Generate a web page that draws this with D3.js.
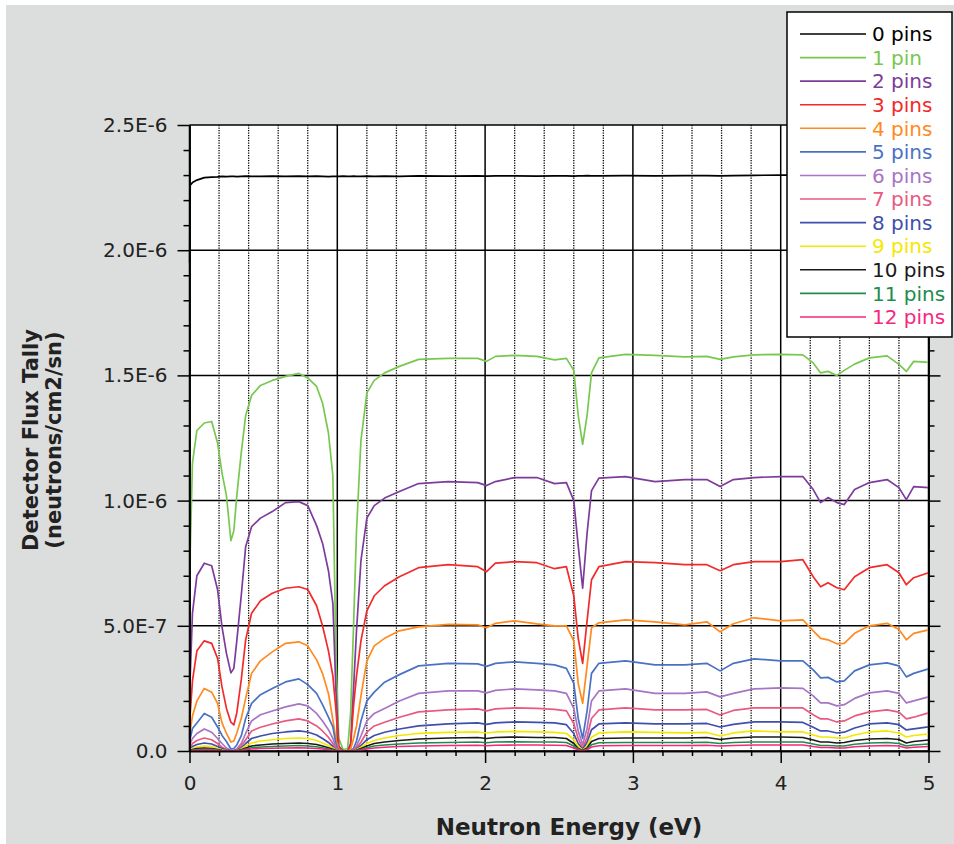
<!DOCTYPE html>
<html>
<head>
<meta charset="utf-8">
<script src="https://cdn.jsdelivr.net/npm/d3@7"></script>
<style>
  html, body { margin: 0; padding: 0; background: #ffffff; }
  svg { display: block; }
  text { font-family: "DejaVu Sans", Verdana, sans-serif; }
</style>
</head>
<body>
<svg id="chart" width="954" height="844"></svg>
<script>
// ---------------- DATA ----------------
const energy = [
  0, 0.005, 0.02, 0.05, 0.1, 0.15, 0.19, 0.22, 0.25, 0.28, 0.3, 0.32,
  0.35, 0.38, 0.42, 0.48, 0.56, 0.65, 0.74, 0.8, 0.86, 0.9, 0.94, 0.97,
  0.99, 1.01, 1.04, 1.07, 1.09, 1.11, 1.13, 1.16, 1.2, 1.25, 1.32, 1.42,
  1.55, 1.75, 1.95, 2.01, 2.07, 2.2, 2.35, 2.47, 2.55, 2.6, 2.63, 2.66,
  2.69, 2.72, 2.77, 2.95, 3.15, 3.35, 3.5, 3.59, 3.68, 3.82, 4.0, 4.15,
  4.22, 4.27, 4.32, 4.38, 4.43, 4.5, 4.6, 4.72, 4.8, 4.85, 4.9, 5.0
];

// flux values in units of 1E-7 neutrons/cm2/sn
const pins0 = [
  19.5, 22.6, 22.7, 22.8, 22.9, 22.92, 22.93, 22.95, 22.94, 22.95, 22.95, 22.94,
  22.95, 22.96, 22.95, 22.95, 22.96, 22.95, 22.96, 22.95, 22.96, 22.95, 22.94, 22.95,
  22.95, 22.95, 22.96, 22.95, 22.95, 22.96, 22.95, 22.95, 22.96, 22.95, 22.96, 22.95,
  22.97, 22.96, 22.97, 22.96, 22.97, 22.97, 22.96, 22.97, 22.97, 22.96, 22.97, 22.97,
  22.98, 22.97, 22.97, 22.98, 22.97, 22.98, 22.98, 22.97, 22.98, 22.99, 23.0, 23.0,
  23.0, 23.0, 23.0, 23.0, 23.0, 23.0, 23.0, 23.0, 23.0, 23.0, 23.0, 23.0
];
const pins1 = [
  1.0, 8.0, 11.5, 12.8, 13.1, 13.16, 12.3, 11.1, 10.2, 8.4, 8.8, 10.2,
  11.9, 13.4, 14.2, 14.6, 14.8, 14.96, 15.08, 14.9, 14.56, 13.9, 12.7, 11.0,
  4.0, 0.5, 0.05, 0.1, 1.5, 5.0, 8.8, 12.4, 14.3, 14.8, 15.1, 15.36,
  15.64, 15.68, 15.68, 15.56, 15.76, 15.8, 15.76, 15.62, 15.68, 15.2, 13.4, 12.25,
  13.4, 15.1, 15.7, 15.84, 15.8, 15.74, 15.76, 15.64, 15.74, 15.82, 15.84, 15.82,
  15.5, 15.1, 15.16, 15.0, 15.2, 15.45, 15.7, 15.78, 15.44, 15.16, 15.56, 15.52
];
const pins2 = [
  0.5, 3.0, 5.5, 7.0, 7.5, 7.4, 6.44, 4.96, 3.9, 3.12, 3.3, 4.4,
  6.2, 8.16, 8.96, 9.3, 9.56, 9.92, 9.96, 9.8, 9.0, 8.3, 7.2, 5.9,
  2.5, 0.2, 0.0, 0.0, 0.3, 2.5, 4.8, 7.6, 9.3, 9.8, 10.1, 10.36,
  10.68, 10.76, 10.72, 10.6, 10.76, 10.92, 10.92, 10.68, 10.72, 10.0, 8.2, 6.5,
  8.7, 10.4, 10.9, 10.96, 10.76, 10.84, 10.84, 10.56, 10.84, 10.92, 10.96, 10.96,
  10.44, 9.92, 10.12, 9.92, 9.84, 10.44, 10.72, 10.84, 10.52, 10.04, 10.56, 10.52
];
const pins3 = [
  0.3, 1.5, 2.8, 4.0, 4.4, 4.3, 3.7, 2.56, 1.7, 1.15, 1.04, 1.52,
  2.84, 4.44, 5.5, 6.0, 6.3, 6.5, 6.56, 6.45, 5.8, 5.0, 4.0, 3.0,
  1.7, 0.1, 0.0, 0.0, 0.2, 1.8, 3.0, 4.4, 5.6, 6.2, 6.6, 6.96,
  7.32, 7.44, 7.36, 7.16, 7.5, 7.56, 7.52, 7.28, 7.36, 6.2, 4.5, 3.5,
  5.2, 6.84, 7.36, 7.56, 7.52, 7.44, 7.44, 7.2, 7.44, 7.56, 7.56, 7.64,
  6.96, 6.56, 6.72, 6.52, 6.44, 6.96, 7.32, 7.44, 7.12, 6.64, 6.92, 7.12
];
const pins4 = [
  0.2, 0.8, 1.4, 2.0, 2.5, 2.35, 1.9, 1.12, 0.7, 0.36, 0.4, 0.72,
  1.3, 2.1, 3.1, 3.6, 3.96, 4.3, 4.36, 4.2, 3.64, 3.1, 2.3, 1.24,
  0.5, 0.05, 0.0, 0.0, 0.05, 0.5, 1.0, 2.2, 3.6, 4.2, 4.5, 4.8,
  4.96, 5.06, 5.04, 4.92, 5.1, 5.2, 5.08, 5.0, 5.0, 4.4, 2.7, 1.9,
  3.4, 4.92, 5.12, 5.24, 5.16, 5.04, 5.16, 4.76, 5.08, 5.32, 5.2, 5.24,
  4.8, 4.5, 4.44, 4.28, 4.3, 4.7, 5.0, 5.1, 4.85, 4.44, 4.7, 4.84
];
const pins5 = [
  0.1, 0.5, 0.9, 1.12, 1.5, 1.35, 0.96, 0.62, 0.38, 0.08, 0.1, 0.24,
  0.6, 1.3, 1.9, 2.25, 2.5, 2.76, 2.88, 2.65, 2.3, 1.85, 1.35, 0.96,
  0.3, 0.0, 0.0, 0.0, 0.0, 0.1, 0.4, 1.2, 2.0, 2.35, 2.75, 3.05,
  3.4, 3.5, 3.48, 3.38, 3.5, 3.56, 3.5, 3.44, 3.3, 2.7, 1.3, 0.5,
  1.6, 3.1, 3.5, 3.6, 3.44, 3.44, 3.5, 3.2, 3.5, 3.68, 3.6, 3.6,
  3.24, 2.92, 2.94, 2.76, 2.8, 3.2, 3.44, 3.52, 3.4, 2.96, 3.1, 3.28
];
const pins6 = [
  0.05, 0.3, 0.5, 0.7, 0.88, 0.75, 0.5, 0.3, 0.12, 0.03, 0.03, 0.08,
  0.3, 0.7, 1.2, 1.45, 1.6, 1.76, 1.88, 1.8, 1.5, 1.2, 0.85, 0.5,
  0.15, 0.0, 0.0, 0.0, 0.0, 0.05, 0.2, 0.6, 1.2, 1.5, 1.7, 2.0,
  2.3, 2.4, 2.4, 2.32, 2.42, 2.48, 2.44, 2.4, 2.3, 1.7, 0.8, 0.25,
  0.9, 2.0, 2.4, 2.48, 2.3, 2.3, 2.36, 2.16, 2.3, 2.48, 2.52, 2.5,
  2.2, 1.92, 1.92, 1.8, 1.85, 2.1, 2.32, 2.4, 2.3, 1.92, 2.0, 2.16
];
const pins7 = [
  0.03, 0.15, 0.3, 0.42, 0.52, 0.45, 0.3, 0.15, 0.06, 0.02, 0.02, 0.05,
  0.2, 0.45, 0.8, 0.95, 1.08, 1.2, 1.28, 1.2, 1.0, 0.8, 0.55, 0.3,
  0.1, 0.0, 0.0, 0.0, 0.0, 0.03, 0.12, 0.35, 0.75, 1.0, 1.15, 1.35,
  1.56, 1.64, 1.68, 1.6, 1.68, 1.72, 1.7, 1.66, 1.6, 1.1, 0.5, 0.12,
  0.55, 1.3, 1.64, 1.72, 1.64, 1.64, 1.66, 1.44, 1.62, 1.72, 1.72, 1.72,
  1.45, 1.28, 1.28, 1.16, 1.2, 1.4, 1.56, 1.64, 1.55, 1.28, 1.35, 1.52
];
const pins8 = [
  0.02, 0.08, 0.18, 0.26, 0.32, 0.28, 0.18, 0.1, 0.04, 0.01, 0.01, 0.03,
  0.12, 0.3, 0.5, 0.6, 0.7, 0.76, 0.8, 0.76, 0.64, 0.5, 0.34, 0.18,
  0.05, 0.0, 0.0, 0.0, 0.0, 0.02, 0.07, 0.22, 0.45, 0.62, 0.75, 0.88,
  1.0, 1.08, 1.12, 1.06, 1.12, 1.16, 1.14, 1.12, 1.05, 0.7, 0.3, 0.06,
  0.35, 0.85, 1.08, 1.12, 1.08, 1.08, 1.1, 0.96, 1.06, 1.16, 1.16, 1.14,
  0.95, 0.8, 0.8, 0.72, 0.75, 0.92, 1.08, 1.12, 1.05, 0.84, 0.88, 0.96
];
const pins9 = [
  0.01, 0.05, 0.1, 0.16, 0.2, 0.18, 0.1, 0.05, 0.02, 0.01, 0.01, 0.02,
  0.08, 0.2, 0.32, 0.4, 0.45, 0.5, 0.52, 0.5, 0.42, 0.32, 0.22, 0.12,
  0.03, 0.0, 0.0, 0.0, 0.0, 0.01, 0.05, 0.15, 0.3, 0.42, 0.52, 0.62,
  0.7, 0.74, 0.76, 0.72, 0.76, 0.78, 0.76, 0.74, 0.7, 0.45, 0.18, 0.03,
  0.2, 0.55, 0.72, 0.76, 0.74, 0.72, 0.74, 0.6, 0.72, 0.8, 0.76, 0.76,
  0.64, 0.56, 0.56, 0.52, 0.52, 0.64, 0.76, 0.8, 0.72, 0.56, 0.62, 0.68
];
const pins10 = [
  0.01, 0.03, 0.06, 0.1, 0.12, 0.1, 0.06, 0.03, 0.01, 0.0, 0.0, 0.01,
  0.05, 0.12, 0.2, 0.24, 0.28, 0.3, 0.32, 0.3, 0.26, 0.2, 0.13, 0.07,
  0.02, 0.0, 0.0, 0.0, 0.0, 0.01, 0.03, 0.1, 0.2, 0.3, 0.36, 0.42,
  0.48, 0.52, 0.54, 0.5, 0.54, 0.56, 0.54, 0.54, 0.5, 0.3, 0.1, 0.02,
  0.12, 0.38, 0.5, 0.52, 0.52, 0.52, 0.54, 0.46, 0.52, 0.56, 0.56, 0.54,
  0.44, 0.36, 0.36, 0.32, 0.34, 0.42, 0.48, 0.5, 0.46, 0.32, 0.38, 0.44
];
const pins11 = [
  0.0, 0.02, 0.04, 0.06, 0.08, 0.07, 0.04, 0.02, 0.01, 0.0, 0.0, 0.01,
  0.03, 0.08, 0.13, 0.16, 0.18, 0.2, 0.22, 0.2, 0.17, 0.13, 0.08, 0.04,
  0.01, 0.0, 0.0, 0.0, 0.0, 0.005, 0.02, 0.06, 0.13, 0.2, 0.24, 0.28,
  0.32, 0.34, 0.36, 0.33, 0.36, 0.37, 0.36, 0.36, 0.34, 0.2, 0.07, 0.01,
  0.08, 0.25, 0.33, 0.34, 0.34, 0.34, 0.35, 0.3, 0.34, 0.36, 0.36, 0.36,
  0.28, 0.22, 0.22, 0.2, 0.2, 0.27, 0.32, 0.34, 0.3, 0.2, 0.24, 0.28
];
const pins12 = [
  0.0, 0.01, 0.02, 0.03, 0.04, 0.035, 0.02, 0.01, 0.0, 0.0, 0.0, 0.005,
  0.02, 0.05, 0.08, 0.1, 0.11, 0.12, 0.13, 0.12, 0.1, 0.08, 0.05, 0.02,
  0.005, 0.0, 0.0, 0.0, 0.0, 0.0, 0.01, 0.04, 0.08, 0.12, 0.15, 0.18,
  0.2, 0.22, 0.23, 0.21, 0.23, 0.24, 0.24, 0.23, 0.22, 0.12, 0.04, 0.01,
  0.05, 0.16, 0.21, 0.22, 0.22, 0.22, 0.23, 0.2, 0.22, 0.24, 0.24, 0.24,
  0.18, 0.14, 0.14, 0.12, 0.12, 0.17, 0.2, 0.22, 0.2, 0.12, 0.15, 0.18
];

const seriesNames = ["0 pins", "1 pin", "2 pins", "3 pins", "4 pins", "5 pins", "6 pins",
                     "7 pins", "8 pins", "9 pins", "10 pins", "11 pins", "12 pins"];
const seriesColors = ["#000000", "#78c850", "#7d3c9c", "#f22a2a", "#ff8a1e", "#4a72c4", "#a874c4",
                      "#e85a82", "#3f4fae", "#f5e800", "#1a1a1a", "#1e8c4c", "#f5287e"];
const fluxSeries = [pins0, pins1, pins2, pins3, pins4, pins5, pins6,
                    pins7, pins8, pins9, pins10, pins11, pins12];

const xTickValues = [0, 1, 2, 3, 4, 5];
const xTickLabels = ["0", "1", "2", "3", "4", "5"];
const yTickValues = [0, 5, 10, 15, 20, 25];          // in 1E-7
const yTickLabels = ["0.0", "5.0E-7", "1.0E-6", "1.5E-6", "2.0E-6", "2.5E-6"];
const xTitle = "Neutron Energy (eV)";
const yTitleLines = ["Detector Flux Tally", "(neutrons/cm2/sn)"];

// ---------------- LAYOUT ----------------
const svg = d3.select("#chart");
const W = 954, H = 844;
const plot = { left: 189.5, right: 928.5, top: 125, bottom: 751 };

svg.append("rect").attr("x", 6).attr("y", 5).attr("width", W - 6).attr("height", H - 5)
  .attr("fill", "#dcdddd");

const x = d3.scaleLinear().domain([0, 5]).range([plot.left, plot.right]);
const y = d3.scaleLinear().domain([0, 25]).range([plot.bottom, plot.top]);

svg.append("rect")
  .attr("x", plot.left).attr("y", plot.top)
  .attr("width", plot.right - plot.left).attr("height", plot.bottom - plot.top)
  .attr("fill", "#ffffff");

// minor vertical dotted grid
const xMinor = d3.range(1, 25).map(i => i * 0.2).filter(v => Math.abs(v - Math.round(v)) > 1e-6);
svg.append("g").selectAll("line").data(xMinor).join("line")
  .attr("x1", d => x(d)).attr("x2", d => x(d))
  .attr("y1", plot.top).attr("y2", plot.bottom)
  .attr("stroke", "#000").attr("stroke-width", 1.3).attr("stroke-dasharray", "1.2,1.3");

// major grid
svg.append("g").selectAll("line").data(xTickValues).join("line")
  .attr("x1", d => x(d)).attr("x2", d => x(d))
  .attr("y1", plot.top).attr("y2", plot.bottom)
  .attr("stroke", "#000").attr("stroke-width", 1.5);
svg.append("g").selectAll("line").data(yTickValues).join("line")
  .attr("x1", plot.left).attr("x2", plot.right)
  .attr("y1", d => y(d)).attr("y2", d => y(d))
  .attr("stroke", "#000").attr("stroke-width", 1.5);

// series
svg.append("clipPath").attr("id", "clip").append("rect")
  .attr("x", plot.left - 1).attr("y", plot.top - 5)
  .attr("width", plot.right - plot.left + 2).attr("height", plot.bottom - plot.top + 5);

const line = d3.line().x((d, i) => x(energy[i])).y(d => y(d)).curve(d3.curveLinear);
const gLines = svg.append("g").attr("clip-path", "url(#clip)");
fluxSeries.forEach((s, k) => {
  gLines.append("path").datum(s)
    .attr("d", line)
    .attr("fill", "none")
    .attr("stroke", seriesColors[k])
    .attr("stroke-width", 1.7)
    .attr("stroke-linejoin", "round");
});

// axes
function styleAxis(g) {
  g.selectAll("path.domain").attr("stroke", "#000").attr("stroke-width", 1.5);
  g.selectAll(".tick line").attr("stroke", "#000").attr("stroke-width", 1.5);
  g.selectAll("text").attr("fill", "#222").attr("font-size", 20)
    .attr("font-family", "DejaVu Sans, Verdana, sans-serif");
}
const yMinor = d3.range(1, 25).filter(v => v % 5 !== 0);

svg.append("g").attr("transform", `translate(${plot.left},0)`)
  .call(d3.axisLeft(y).tickValues(yMinor).tickSize(6).tickSizeOuter(0).tickFormat(""))
  .call(styleAxis);
svg.append("g").attr("transform", `translate(${plot.left},0)`)
  .call(d3.axisLeft(y).tickValues(yTickValues).tickSize(12).tickSizeOuter(0).tickPadding(10)
    .tickFormat((d, i) => yTickLabels[i]))
  .call(styleAxis);

svg.append("g").attr("transform", `translate(${plot.right},0)`)
  .call(d3.axisRight(y).tickValues(yMinor).tickSize(6).tickSizeOuter(0).tickFormat(""))
  .call(styleAxis);
svg.append("g").attr("transform", `translate(${plot.right},0)`)
  .call(d3.axisRight(y).tickValues(yTickValues).tickSize(12).tickSizeOuter(0).tickFormat(""))
  .call(styleAxis);

svg.append("g").attr("transform", `translate(0,${plot.bottom})`)
  .call(d3.axisBottom(x).tickValues(xMinor).tickSize(5).tickSizeOuter(0).tickFormat(""))
  .call(styleAxis);
svg.append("g").attr("transform", `translate(0,${plot.bottom})`)
  .call(d3.axisBottom(x).tickValues(xTickValues).tickSize(12).tickSizeOuter(0).tickPadding(13)
    .tickFormat((d, i) => xTickLabels[i]))
  .call(styleAxis);

// titles
svg.append("text")
  .attr("x", 569).attr("y", 835)
  .attr("text-anchor", "middle")
  .attr("font-size", 23).attr("font-weight", "bold").attr("fill", "#222")
  .text(xTitle);

yTitleLines.forEach((t, i) => {
  svg.append("text")
    .attr("transform", `translate(${38 + i * 23},440) rotate(-90)`)
    .attr("text-anchor", "middle")
    .attr("font-size", 21).attr("font-weight", "bold").attr("fill", "#222")
    .text(t);
});

// legend
const lg = svg.append("g");
lg.append("rect").attr("x", 787).attr("y", 12).attr("width", 165).attr("height", 325)
  .attr("fill", "#fff").attr("stroke", "#000").attr("stroke-width", 1.5);
seriesNames.forEach((name, i) => {
  const yy = 34 + i * 23.58;
  lg.append("line").attr("x1", 800).attr("x2", 866).attr("y1", yy).attr("y2", yy)
    .attr("stroke", seriesColors[i]).attr("stroke-width", 1.6);
  lg.append("text").attr("x", 872).attr("y", yy).attr("dy", "0.36em")
    .attr("font-size", 20).attr("fill", seriesColors[i]).text(name);
});
</script>
</body>
</html>
